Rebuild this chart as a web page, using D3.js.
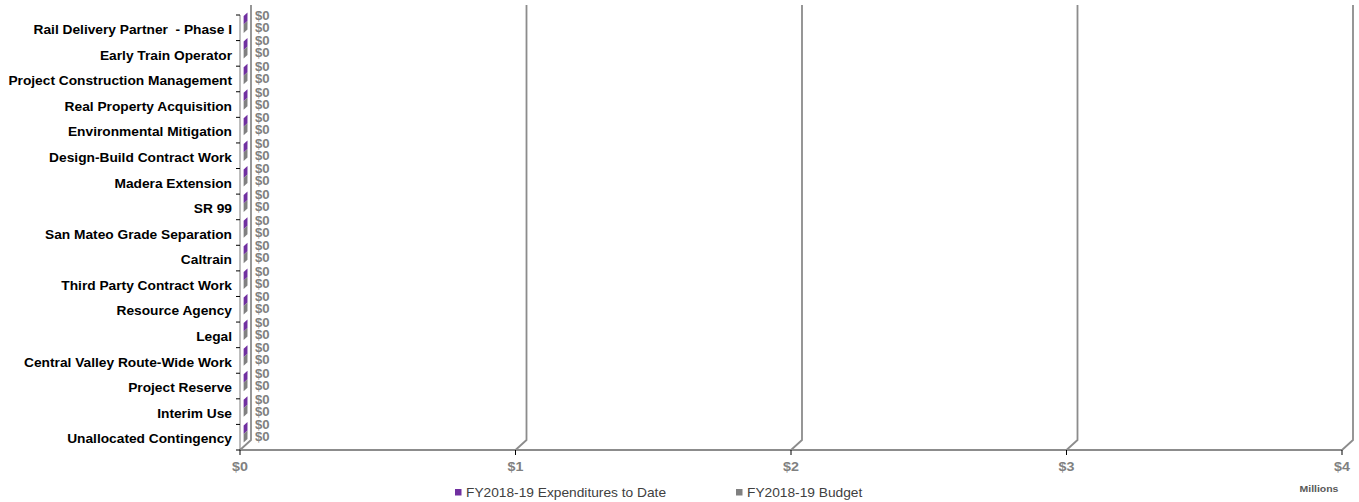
<!DOCTYPE html>
<html>
<head>
<meta charset="utf-8">
<script src="https://cdn.jsdelivr.net/npm/d3@7"></script>
<style>
  html, body { margin: 0; padding: 0; background: #fff; }
  svg { display: block; font-family: "Liberation Sans", Arial, sans-serif; }
  text { white-space: pre; }
</style>
</head>
<body>
<svg id="chart" width="1359" height="502"></svg>
<script>
// Contract work breakdown (values in millions of dollars)
const categories = [
  "Rail Delivery Partner  - Phase I",
  "Early Train Operator",
  "Project Construction Management",
  "Real Property Acquisition",
  "Environmental Mitigation",
  "Design-Build Contract Work",
  "Madera Extension",
  "SR 99",
  "San Mateo Grade Separation",
  "Caltrain",
  "Third Party Contract Work",
  "Resource Agency",
  "Legal",
  "Central Valley Route-Wide Work",
  "Project Reserve",
  "Interim Use",
  "Unallocated Contingency"
];
const expendituresToDate = [0, 0, 0, 0, 0, 0, 0, 0, 0, 0, 0, 0, 0, 0, 0, 0, 0];
const budget =             [0, 0, 0, 0, 0, 0, 0, 0, 0, 0, 0, 0, 0, 0, 0, 0, 0];
const seriesNames = ["FY2018-19 Expenditures to Date", "FY2018-19 Budget"];
const seriesColors = ["#7030A0", "#808080"];
const xTicks = [0, 1, 2, 3, 4];
const xTickLabels = ["$0", "$1", "$2", "$3", "$4"];
const unitLabel = "Millions";

const svg = d3.select("#chart");

// Front plane of the 3D plot and the depth offset to the back wall
const x = d3.scaleLinear().domain([0, 4]).range([240, 1342]);
const y = d3.scaleBand().domain(categories).range([15, 450]);
const depthX = 11, depthY = -10;
const floorY = y.range()[1];
const topY = y.range()[0];
const stretch = 1.1; // horizontal text stretch

function label(g, tx, ty, text, opts) {
  return g.append("text")
    .attr("transform", `translate(${tx},${ty}) scale(${stretch},1)`)
    .attr("text-anchor", opts.anchor || "start")
    .attr("font-size", opts.size)
    .attr("font-weight", opts.weight || "normal")
    .attr("fill", opts.fill || "#000")
    .attr("xml:space", "preserve")
    .text(text);
}

// Back-wall gridlines, bent down to the floor's front edge
svg.append("g").selectAll("path.grid")
  .data(xTicks)
  .join("path")
  .attr("class", "grid")
  .attr("fill", "none")
  .attr("stroke", "#8c8c8c")
  .attr("stroke-width", 1.8)
  .attr("d", d => {
    const px = x(d);
    return `M${px + depthX},${topY + depthY} L${px + depthX},${floorY + depthY} L${px},${floorY}`;
  });

// Floor front edge (value axis)
svg.append("line")
  .attr("x1", x(0)).attr("x2", x(4))
  .attr("y1", floorY).attr("y2", floorY)
  .attr("stroke", "#8c8c8c").attr("stroke-width", 1.8);

// Category axis front edge
svg.append("line")
  .attr("x1", x(0)).attr("x2", x(0))
  .attr("y1", topY).attr("y2", floorY)
  .attr("stroke", "#7a7a7a").attr("stroke-width", 1);

// Category axis ticks at band boundaries
const boundaries = categories.map(c => y(c)).concat([floorY]);
svg.append("g").selectAll("line")
  .data(boundaries)
  .join("line")
  .attr("x1", x(0) - 4).attr("x2", x(0))
  .attr("y1", d => d).attr("y2", d => d)
  .attr("stroke", "#000").attr("stroke-width", 1);

// Value axis ticks
svg.append("g").selectAll("line")
  .data(xTicks)
  .join("line")
  .attr("x1", d => x(d)).attr("x2", d => x(d))
  .attr("y1", floorY).attr("y2", floorY + 5)
  .attr("stroke", "#000").attr("stroke-width", 1);

// 3D bars: front face, top face and end cap
const z0 = 0.33, z1 = 0.68;
const barH = 8.5;
const rows = [];
categories.forEach((c, i) => {
  [expendituresToDate[i], budget[i]].forEach((v, s) => {
    const cy = y(c) + y.bandwidth() / 2;
    const y0 = cy - barH + s * barH;
    rows.push({ c, s, v, cy, y0, y1: y0 + barH });
  });
});
const bars = svg.append("g");
rows.forEach(r => {
  const xa = x(0), xb = x(r.v);
  const ox0 = depthX * z0, oy0 = depthY * z0;
  const ox1 = depthX * z1, oy1 = depthY * z1;
  const col = seriesColors[r.s];
  // front face
  bars.append("polygon")
    .attr("points", [[xa + ox0, r.y0 + oy0], [xb + ox0, r.y0 + oy0], [xb + ox0, r.y1 + oy0], [xa + ox0, r.y1 + oy0]].join(" "))
    .attr("fill", col);
  // top face
  bars.append("polygon")
    .attr("points", [[xa + ox0, r.y0 + oy0], [xb + ox0, r.y0 + oy0], [xb + ox1, r.y0 + oy1], [xa + ox1, r.y0 + oy1]].join(" "))
    .attr("fill", d3.color(col).brighter(0.4));
  // end cap
  bars.append("polygon")
    .attr("points", [[xb + ox0, r.y0 + oy0], [xb + ox1, r.y0 + oy1], [xb + ox1, r.y1 + oy1], [xb + ox0, r.y1 + oy0]].join(" "))
    .attr("fill", col);
});

// Data labels
const dl = svg.append("g");
const fmt = v => "$" + d3.format(",.0f")(v);
rows.forEach(r => {
  const ly = r.s === 0 ? r.cy - 12.5 : r.cy - 0.5;
  label(dl, x(r.v) + 15, ly + 4.5, fmt(r.v), { size: "12px", weight: "bold", fill: "#808080" });
});

// Category labels
const cl = svg.append("g");
categories.forEach(c => {
  label(cl, 232, y(c) + y.bandwidth() / 2 + 6.2, c, { size: "12.5px", weight: "bold", anchor: "end", fill: "#000" });
});

// Value axis labels
const xl = svg.append("g");
xTicks.forEach((t, i) => {
  label(xl, x(t), 471, xTickLabels[i], { size: "13px", weight: "bold", anchor: "middle", fill: "#808080" });
});

// Units
label(svg, 1319, 492, unitLabel, { size: "9.5px", weight: "bold", anchor: "middle", fill: "#595959" });

// Legend
const legendItems = [
  { name: seriesNames[0], color: seriesColors[0], x: 455 },
  { name: seriesNames[1], color: seriesColors[1], x: 736 }
];
const lg = svg.append("g");
legendItems.forEach(d => {
  lg.append("rect").attr("x", d.x).attr("y", 489).attr("width", 6.5).attr("height", 6.5).attr("fill", d.color);
  label(lg, d.x + 11, 496.5, d.name, { size: "12.5px", fill: "#404040" });
});
</script>
</body>
</html>
